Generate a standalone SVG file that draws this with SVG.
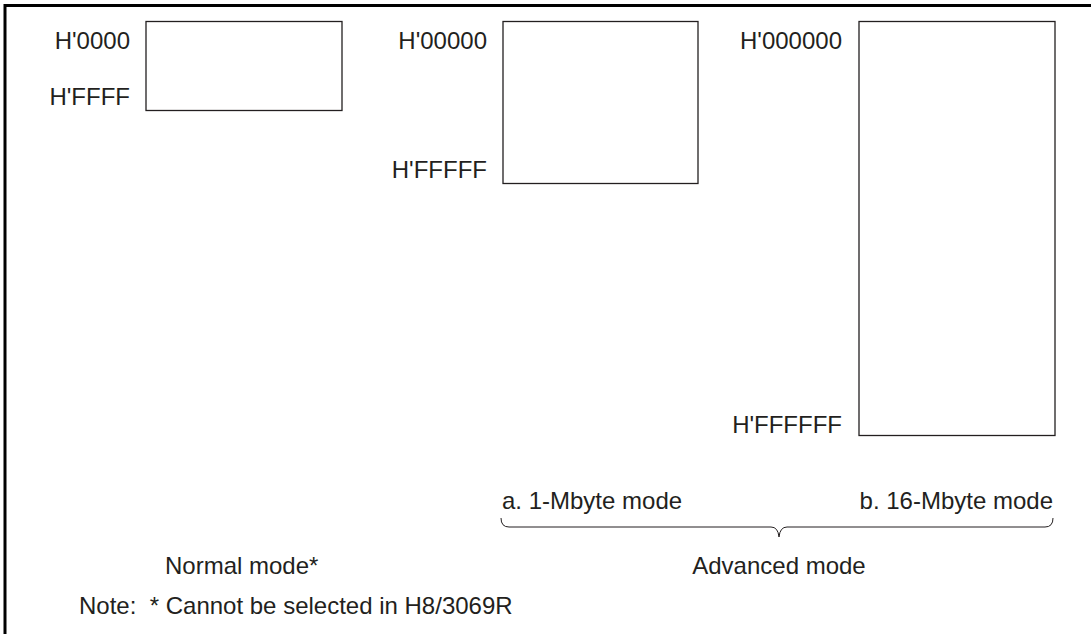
<svg xmlns="http://www.w3.org/2000/svg" width="1091" height="634" viewBox="0 0 1091 634">
<style>
text{font-family:"Liberation Sans",Arial,sans-serif;font-size:24px;fill:#231f20}
.r{text-anchor:end}
.m{text-anchor:middle}
.box{fill:#fff;stroke:#231f20;stroke-width:1.3}
.frame{fill:none;stroke:#000;stroke-width:3}
.brace{fill:none;stroke:#231f20;stroke-width:1}
</style>
<rect width="1091" height="634" fill="#fff"/>
<path class="frame" d="M5,634 V5.5 H1091"/>
<g id="normal">
<rect class="box" x="146" y="21.5" width="196" height="89"/>
<text class="r" x="130" y="48.5">H'0000</text>
<text class="r" x="130" y="105">H'FFFF</text>
</g>
<g id="mode1m">
<rect class="box" x="503" y="21.5" width="195" height="162"/>
<text class="r" x="487" y="48.5">H'00000</text>
<text class="r" x="487" y="178">H'FFFFF</text>
</g>
<g id="mode16m">
<rect class="box" x="859" y="21.5" width="196" height="414"/>
<text class="r" x="842" y="48.5">H'000000</text>
<text class="r" x="842" y="433">H'FFFFFF</text>
</g>
<g id="connectors">
<path class="brace" d="M501,518 Q501,527 509,527 H771 Q778,527 779,537 Q780,527 787,527 H1045 Q1053,527 1053,518"/>
</g>
<g id="labels">
<text x="502" y="509">a. 1-Mbyte mode</text>
<text class="r" x="1053" y="509">b. 16-Mbyte mode</text>
<text class="m" x="779" y="574">Advanced mode</text>
<text x="165" y="574">Normal mode*</text>
<text x="79" y="614" xml:space="preserve">Note:  * Cannot be selected in H8/3069R</text>
</g>
</svg>
